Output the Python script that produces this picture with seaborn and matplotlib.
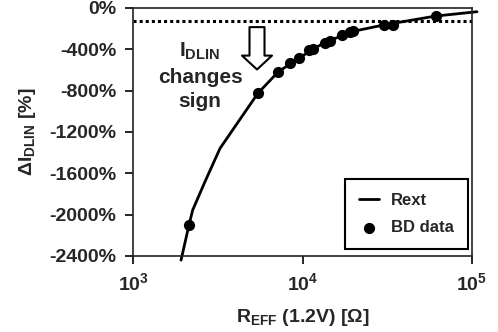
import matplotlib
matplotlib.use("Agg")
import matplotlib.pyplot as plt
import seaborn as sns
import numpy as np
import pandas as pd
from matplotlib.ticker import FixedLocator, NullLocator, FuncFormatter

# Data
rext_r = [1920, 2140, 2250, 2660, 3260, 5450, 7200, 9500, 12000, 15000, 20000, 30000, 45000, 61000, 107000]
rext_di = [-2440, -2100, -1955, -1680, -1359, -826, -617, -487, -380, -305, -225, -165, -115, -78, -36]
bd_r = [2140, 5450, 7200, 8430, 9530, 10900, 11600, 13500, 14500, 17000, 19000, 19800, 30300, 34400, 61000]
bd_di = [-2100, -826, -617, -530, -487, -407, -400, -342, -317, -261, -236, -223, -165, -165, -74]
sign_level = -128
yticks = [0, -400, -800, -1200, -1600, -2000, -2400]
xticks = [1e3, 1e4, 1e5]
note_lines = ["I$_{DLIN}$", "changes", "sign"]

sns.set_style("ticks")
plt.rcParams['font.family'] = ['Liberation Sans', 'DejaVu Sans']
plt.rcParams['font.weight'] = 'bold'
plt.rcParams['mathtext.fontset'] = 'custom'
plt.rcParams['mathtext.rm'] = 'Liberation Sans:bold'
plt.rcParams['mathtext.bf'] = 'Liberation Sans:bold'
plt.rcParams['mathtext.it'] = 'Liberation Sans:bold'
plt.rcParams['mathtext.default'] = 'bf'

fig = plt.figure(figsize=(4.98, 3.32), dpi=100)
ax = fig.add_axes([133/498, 1-256/332, (472-133)/498, (256-8)/332])

df_line = pd.DataFrame({"R": rext_r, "dI": rext_di})
df_pts = pd.DataFrame({"R": bd_r, "dI": bd_di})

sns.lineplot(data=df_line, x="R", y="dI", sort=False, color="black", lw=2.0, label="Rext", ax=ax)
ax.lines[-1].set_clip_on(False)
sns.scatterplot(data=df_pts, x="R", y="dI", color="black", s=65, edgecolor="black", linewidth=0, label="BD data", ax=ax, zorder=5)

ax.axhline(sign_level, color="black", lw=2.2, linestyle=(0, (1, 1)))

ax.set_xscale("log")
ax.set_xlim(1e3, 1e5)
ax.set_ylim(-2400, 0)
ax.xaxis.set_major_locator(FixedLocator(xticks))
ax.xaxis.set_minor_locator(NullLocator())
ax.xaxis.set_major_formatter(FuncFormatter(lambda v, p: r"$10^{%d}$" % int(round(np.log10(v)))))
ax.set_yticks(yticks)
ax.set_yticklabels([f"{v}%" for v in yticks])
ax.tick_params(axis="both", labelsize=14, length=6, width=1.2, color="black", pad=6)
for s in ax.spines.values():
    s.set_visible(True)
    s.set_linewidth(1.2)
    s.set_color("#222222")

ax.set_xlabel(r"R$_{EFF}$ (1.2V) [$\Omega$]", fontsize=14, fontweight="bold", labelpad=9)
ax.set_ylabel(r"$\Delta$I$_{DLIN}$ [%]", fontsize=14, fontweight="bold", labelpad=8)

for txt, yv in zip(note_lines, [-420, -668, -905]):
    ax.text(2485, yv, txt, ha="center", va="center", fontsize=15, fontweight="bold")
ax.annotate("", xy=(5390, -595), xytext=(5390, -185),
            arrowprops=dict(arrowstyle="simple,head_width=2.16,head_length=1.0,tail_width=1.08",
                            mutation_scale=10, fc="white", ec="black", lw=1.5,
                            shrinkA=0, shrinkB=0))

leg = ax.legend(loc="lower right", bbox_to_anchor=(0.988, 0.028), borderaxespad=0,
                fontsize=12, frameon=True, fancybox=False, framealpha=1,
                handlelength=1.2, handletextpad=0.7, borderpad=0.85, labelspacing=0.7)
leg.get_frame().set_edgecolor("black")
leg.get_frame().set_linewidth(1.5)
for t in leg.get_texts():
    t.set_fontweight("bold")

fig.savefig("out.png", dpi=100)
